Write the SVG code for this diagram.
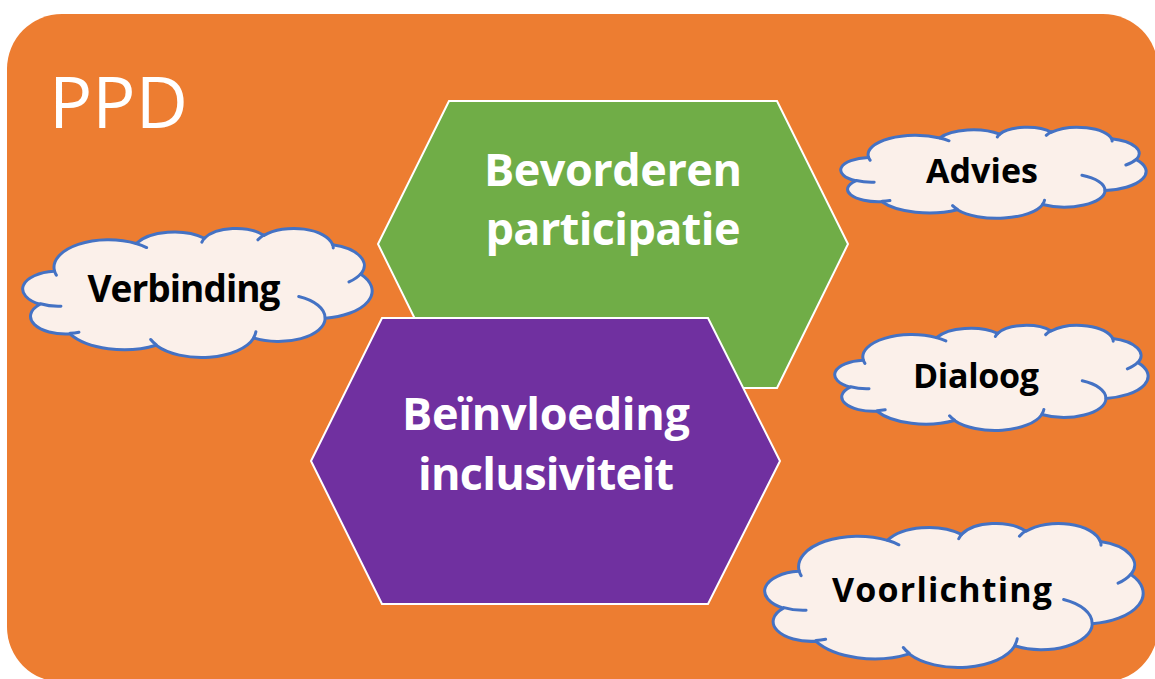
<svg xmlns="http://www.w3.org/2000/svg" xmlns:xlink="http://www.w3.org/1999/xlink" width="1155" height="679" viewBox="0 0 1155 679">
  <style>
    .hex { stroke: #FFFFFF; stroke-width: 2; stroke-linejoin: miter; }
    .hexText { font-family: "Open Sans", "Noto Sans", "DejaVu Sans", sans-serif; font-weight: bold; font-size: 45px; fill: #FFFFFF; text-anchor: middle; }
    .cloud { fill: #FBF0EA; stroke: #4472C4; stroke-width: 3; stroke-linejoin: round; }
    .cloudInner { fill: none; stroke: #4472C4; stroke-width: 3; stroke-linecap: round; }
    .cloudText { font-family: "Open Sans", "Noto Sans", "DejaVu Sans", sans-serif; font-weight: bold; font-size: 34px; fill: #000000; text-anchor: middle; }
    .title { font-family: "Open Sans", "Noto Sans", "DejaVu Sans", sans-serif; font-weight: normal; font-size: 72px; fill: #FFFFFF; }
  </style>
  <defs>
    <path id="cloudShape" vector-effect="non-scaling-stroke" d="M39,143.7 A67.53,91.9 0 0 1 140.05,52.03 A53.33,72.67 0 0 1 224.56,34.33 A43.65,59.45 0 0 1 298.33,24.82 A48.57,65.95 0 0 1 383.17,55.79 A53.33,72.73 0 0 1 418.18,154.63 A67.75,92.2 0 0 1 374.01,302.05 A57.85,78.67 0 0 1 285.53,368.16 A67.52,92.15 0 0 1 164.77,392.67 A77.2,105.43 0 0 1 58,354.73 A43.6,59.18 0 0 1 21.08,255.51 A43.45,59.45 0 0 1 38.58,145.08 Z"/>
    <path id="cloudLines" vector-effect="non-scaling-stroke" d="M46.93,261.77 A43.45,59.45 0 0 1 21.6,253.79 M69.28,348.99 A43.6,59.18 0 0 1 58.21,352.8 M164.78,390.9 A67.52,92.15 0 0 1 158.11,373.48 M288.27,347.51 A67.52,92.15 0 0 1 285.6,366.61 M341.29,229.54 A57.85,78.67 0 0 1 373.81,300.9 M417.98,153.54 A53.33,72.73 0 0 1 403.5,180.3 M383.24,54.26 A48.57,65.95 0 0 1 384.01,66.89 M290.78,39.52 A48.57,65.95 0 0 1 298.21,23.38 M221.41,47.2 A43.65,59.45 0 0 1 225.01,33.3 M140,51.92 A67.53,91.9 0 0 1 153,65.41 M41.27,157.89 A67.53,91.9 0 0 1 39,143.71"/>
  </defs>

  <g id="background">
    <rect x="7" y="14" width="1151" height="668" rx="55" ry="55" fill="#ED7D31"/>
    <text class="title" x="49" y="128">PPD</text>
  </g>

  <g id="node-bevorderen">
    <polygon class="hex" fill="#70AD47" points="449,101 777,101 848,244 777,388 449,388 378,244"/>
    <text class="hexText" x="613" y="186" textLength="258">Bevorderen</text>
    <text class="hexText" x="613" y="245" textLength="255">participatie</text>
  </g>

  <g id="node-beinvloeding">
    <polygon class="hex" fill="#7030A0" points="382,318 708,318 780,461 708,604 382,604 311,461"/>
    <text class="hexText" x="546" y="430" textLength="288">Beïnvloeding</text>
    <text class="hexText" x="546" y="490" textLength="256">inclusiviteit</text>
  </g>

  <g id="node-verbinding">
    <g transform="translate(23,228) scale(0.8079,0.2986)">
      <use xlink:href="#cloudShape" href="#cloudShape" class="cloud"/>
      <use xlink:href="#cloudLines" href="#cloudLines" class="cloudInner"/>
    </g>
    <text class="cloudText" x="184" y="302" style="font-size:37px" textLength="193">Verbinding</text>
  </g>

  <g id="node-advies">
    <g transform="translate(841,127) scale(0.706,0.2106)">
      <use xlink:href="#cloudShape" href="#cloudShape" class="cloud"/>
      <use xlink:href="#cloudLines" href="#cloudLines" class="cloudInner"/>
    </g>
    <text class="cloudText" x="982" y="183" textLength="112">Advies</text>
  </g>

  <g id="node-dialoog">
    <g transform="translate(835,325) scale(0.7245,0.2431)">
      <use xlink:href="#cloudShape" href="#cloudShape" class="cloud"/>
      <use xlink:href="#cloudLines" href="#cloudLines" class="cloudInner"/>
    </g>
    <text class="cloudText" x="976" y="388" textLength="126">Dialoog</text>
  </g>

  <g id="node-voorlichting">
    <g transform="translate(765,523) scale(0.875,0.3333)">
      <use xlink:href="#cloudShape" href="#cloudShape" class="cloud"/>
      <use xlink:href="#cloudLines" href="#cloudLines" class="cloudInner"/>
    </g>
    <text class="cloudText" x="942" y="602" textLength="220">Voorlichting</text>
  </g>

  <g id="connectors"/>
</svg>
